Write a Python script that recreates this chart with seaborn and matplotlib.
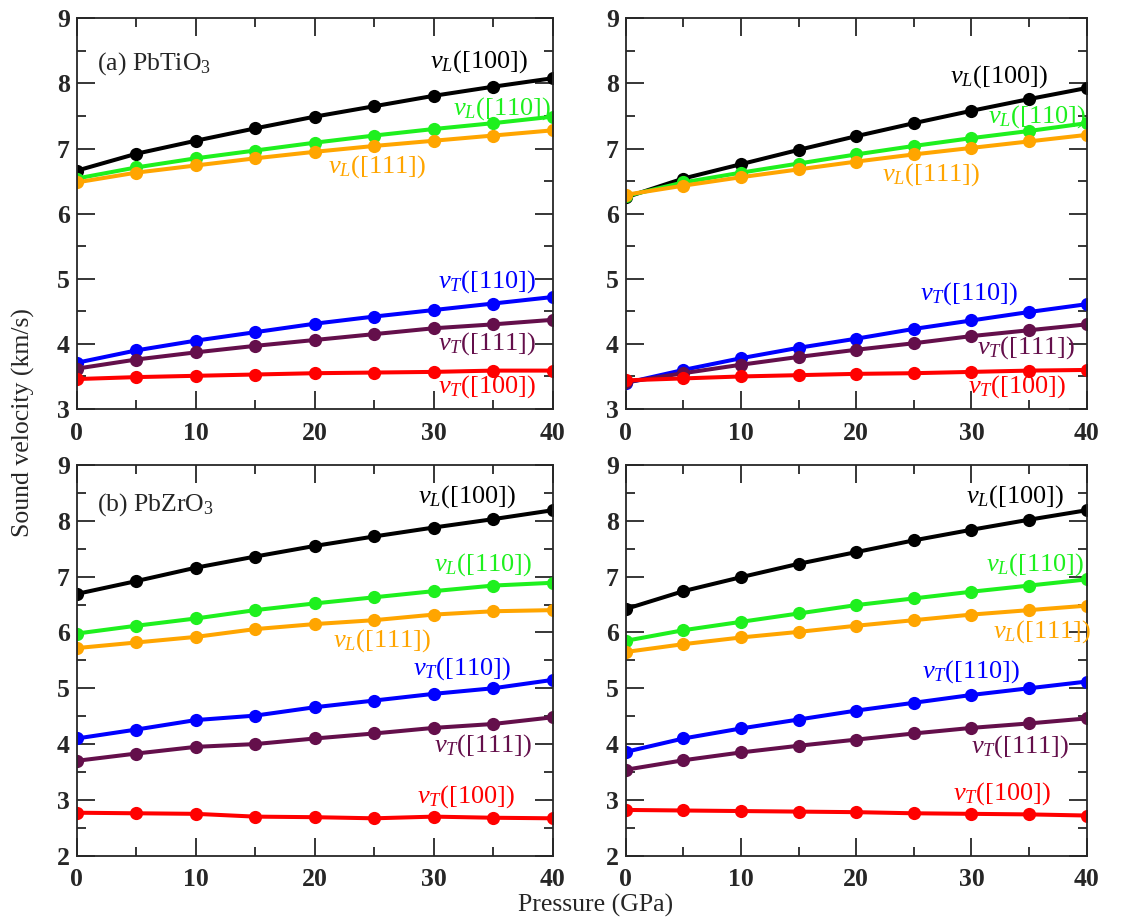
import pandas as pd
import matplotlib
matplotlib.use("Agg")
import matplotlib.pyplot as plt
import seaborn as sns
from matplotlib.ticker import MultipleLocator

# pressure grid (GPa)
pressure = [0, 5, 10, 15, 20, 25, 30, 35, 40]

# (a) PbTiO3, left panel
a_vL100 = [6.66, 6.92, 7.12, 7.31, 7.49, 7.65, 7.81, 7.95, 8.08]
a_vL110 = [6.54, 6.71, 6.85, 6.97, 7.09, 7.20, 7.30, 7.39, 7.49]
a_vL111 = [6.48, 6.63, 6.74, 6.85, 6.95, 7.04, 7.12, 7.20, 7.28]
a_vT110 = [3.71, 3.90, 4.05, 4.18, 4.31, 4.42, 4.52, 4.62, 4.72]
a_vT111 = [3.62, 3.76, 3.87, 3.97, 4.06, 4.15, 4.24, 4.30, 4.37]
a_vT100 = [3.46, 3.49, 3.51, 3.53, 3.55, 3.56, 3.57, 3.59, 3.59]

# PbTiO3, right panel
b_vL100 = [6.25, 6.54, 6.76, 6.98, 7.19, 7.39, 7.58, 7.76, 7.93]
b_vL110 = [6.27, 6.48, 6.63, 6.77, 6.91, 7.04, 7.16, 7.27, 7.39]
b_vL111 = [6.29, 6.43, 6.56, 6.68, 6.80, 6.91, 7.01, 7.11, 7.21]
b_vT110 = [3.40, 3.60, 3.78, 3.94, 4.08, 4.23, 4.36, 4.49, 4.61]
b_vT111 = [3.41, 3.55, 3.68, 3.80, 3.91, 4.01, 4.12, 4.21, 4.30]
b_vT100 = [3.44, 3.47, 3.50, 3.52, 3.54, 3.55, 3.57, 3.59, 3.60]

# (b) PbZrO3, left panel
c_vL100 = [6.69, 6.92, 7.16, 7.36, 7.55, 7.72, 7.88, 8.03, 8.19]
c_vL110 = [5.98, 6.12, 6.25, 6.40, 6.52, 6.63, 6.74, 6.84, 6.89]
c_vL111 = [5.72, 5.82, 5.92, 6.06, 6.15, 6.22, 6.32, 6.38, 6.40]
c_vT110 = [4.10, 4.26, 4.43, 4.51, 4.66, 4.78, 4.90, 5.00, 5.15]
c_vT111 = [3.70, 3.83, 3.95, 4.00, 4.10, 4.19, 4.29, 4.36, 4.48]
c_vT100 = [2.77, 2.76, 2.75, 2.70, 2.69, 2.67, 2.70, 2.68, 2.67]

# PbZrO3, right panel
d_vL100 = [6.42, 6.74, 6.99, 7.23, 7.44, 7.65, 7.84, 8.02, 8.19]
d_vL110 = [5.85, 6.04, 6.19, 6.34, 6.49, 6.61, 6.73, 6.84, 6.95]
d_vL111 = [5.65, 5.79, 5.91, 6.01, 6.12, 6.22, 6.32, 6.40, 6.48]
d_vT110 = [3.86, 4.10, 4.28, 4.44, 4.60, 4.74, 4.88, 5.00, 5.12]
d_vT111 = [3.54, 3.71, 3.85, 3.97, 4.08, 4.19, 4.29, 4.37, 4.46]
d_vT100 = [2.82, 2.81, 2.80, 2.79, 2.78, 2.76, 2.75, 2.74, 2.72]

modes = ["vL100", "vL110", "vL111", "vT110", "vT111", "vT100"]
mode_labels = [r"$v_L$([100])", r"$v_L$([110])", r"$v_L$([111])",
               r"$v_T$([110])", r"$v_T$([111])", r"$v_T$([100])"]
colors = ["#000000", "#1ef01e", "#ffa500", "#0000ff", "#640f4b", "#ff0000"]

sns.set_style("ticks")
plt.rcParams["font.family"] = ["Liberation Serif", "DejaVu Serif"]
plt.rcParams["mathtext.fontset"] = "custom"
plt.rcParams["mathtext.rm"] = "Liberation Serif"
plt.rcParams["mathtext.it"] = "Liberation Serif:italic"
plt.rcParams["axes.linewidth"] = 1.3


def build_frame(series):
    rows = []
    for mode, vals in zip(modes, series):
        for p, v in zip(pressure, vals):
            rows.append({"P": p, "v": v, "mode": mode})
    return pd.DataFrame(rows)


panels = [
    dict(data=[a_vL100, a_vL110, a_vL111, a_vT110, a_vT111, a_vT100], ymin=3,
         title=r"(a) PbTiO$_3$", rect=[0.0682, 0.5559, 0.4231, 0.4242],
         pos=[(29.7, 8.33), (31.6, 7.62), (21.1, 6.72), (30.4, 4.96), (30.4, 4.01), (30.4, 3.35)]),
    dict(data=[b_vL100, b_vL110, b_vL111, b_vT110, b_vT111, b_vT100], ymin=3,
         title=None, rect=[0.5562, 0.5559, 0.4098, 0.4242],
         pos=[(28.1, 8.10), (31.4, 7.49), (22.2, 6.60), (25.5, 4.78), (30.5, 3.94), (29.7, 3.35)]),
    dict(data=[c_vL100, c_vL110, c_vL111, c_vT110, c_vT111, c_vT100], ymin=2,
         title=r"(b) PbZrO$_3$", rect=[0.0682, 0.0709, 0.4231, 0.4242],
         pos=[(28.7, 8.43), (30.0, 7.21), (21.5, 5.86), (28.3, 5.36), (30.0, 3.98), (28.6, 3.06)]),
    dict(data=[d_vL100, d_vL110, d_vL111, d_vT110, d_vT111, d_vT100], ymin=2,
         title=None, rect=[0.5562, 0.0709, 0.4098, 0.4242],
         pos=[(29.5, 8.43), (31.3, 7.21), (31.9, 6.01), (25.7, 5.30), (30.0, 3.95), (28.4, 3.12)]),
]

fig = plt.figure(figsize=(11.25, 9.21), dpi=100)

for pan in panels:
    ax = fig.add_axes(pan["rect"])
    df = build_frame(pan["data"])
    sns.lineplot(data=df, x="P", y="v", hue="mode", palette=colors, hue_order=modes,
                 marker="o", markersize=9.5, markeredgewidth=0, linewidth=2.9,
                 legend=False, ax=ax)
    ax.set_xlim(0, 40)
    ax.set_ylim(pan["ymin"], 9)
    ax.xaxis.set_major_locator(MultipleLocator(10))
    ax.xaxis.set_minor_locator(MultipleLocator(5))
    ax.yaxis.set_major_locator(MultipleLocator(1))
    ax.yaxis.set_minor_locator(MultipleLocator(0.5))
    ax.tick_params(which="both", direction="in", top=True, right=True, width=1.3)
    ax.tick_params(which="major", length=13, labelsize=18.5)
    ax.tick_params(which="minor", length=6.5)
    ax.tick_params(axis="x", which="major", pad=9)
    ax.tick_params(axis="y", which="major", pad=5)
    for lab in ax.get_xticklabels() + ax.get_yticklabels():
        lab.set_fontweight("bold")
    ax.set_xlabel("")
    ax.set_ylabel("")
    for (x, y), txt, col in zip(pan["pos"], mode_labels, colors):
        ax.text(x, y, txt, color=col, fontsize=19, ha="left", va="center")
    if pan["title"]:
        ax.text(1.7, 8.3, pan["title"], fontsize=18.5, ha="left", va="center")

fig.text(0.021, 0.541, "Sound velocity (km/s)", rotation=90, fontsize=18.5,
         ha="center", va="center")
fig.text(0.529, 0.017, "Pressure (GPa)", fontsize=18.5, ha="center", va="center")

fig.savefig("out.png", dpi=100)
